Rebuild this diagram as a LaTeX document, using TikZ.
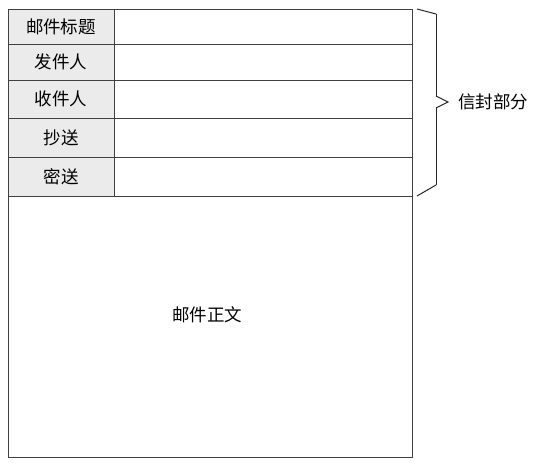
\documentclass[tikz,border=0pt]{standalone}
\usepackage{fontspec}
\newfontfamily\cjk{Noto Sans CJK SC}
\usetikzlibrary{positioning}

\tikzset{
  cell/.style={draw=black!75,line width=0.9pt,inner sep=0pt,anchor=center},
  lbl/.style={cell,fill=black!8,minimum width=106pt,font=\cjk\fontsize{17.5}{20}\selectfont},
  fld/.style={cell,fill=white,minimum width=298pt},
  txt/.style={inner sep=0pt,font=\cjk\fontsize{17.5}{20}\selectfont}
}

\begin{document}
\begin{tikzpicture}[x=1pt,y=-1pt]
\useasboundingbox (0,0) rectangle (549,465);
% mail body
\node[cell,minimum width=404pt,minimum height=261pt] (body) at (210,326.5) {};
\node[txt] (body_t) at (207,315) {邮件正文};
% header rows
\node[lbl,minimum height=35pt] (l1) at (61,26.5) {邮件标题};
\node[fld,minimum height=35pt] (f1) at (263,26.5) {};
\node[lbl,minimum height=36pt] (l2) at (61,62) {发件人};
\node[fld,minimum height=36pt] (f2) at (263,62) {};
\node[lbl,minimum height=38pt] (l3) at (61,99) {收件人};
\node[fld,minimum height=38pt] (f3) at (263,99) {};
\node[lbl,minimum height=39pt] (l4) at (61,137.5) {抄送};
\node[fld,minimum height=39pt] (f4) at (263,137.5) {};
\node[lbl,minimum height=39pt] (l5) at (61,176.5) {密送};
\node[fld,minimum height=39pt] (f5) at (263,176.5) {};
% brace
\node[txt] (env) at (493,102) {信封部分};
\draw[black!85,line width=1pt] (417,9) -- (436,14);
\draw[black!85,line width=1pt] (436,14) -- (436,96);
\draw[black!85,line width=1pt] (436,96) -- (448,102) -- (436,108);
\draw[black!85,line width=1pt] (436,108) -- (436,185);
\draw[black!85,line width=1pt] (436,185) -- (417,196);
\end{tikzpicture}
\end{document}
